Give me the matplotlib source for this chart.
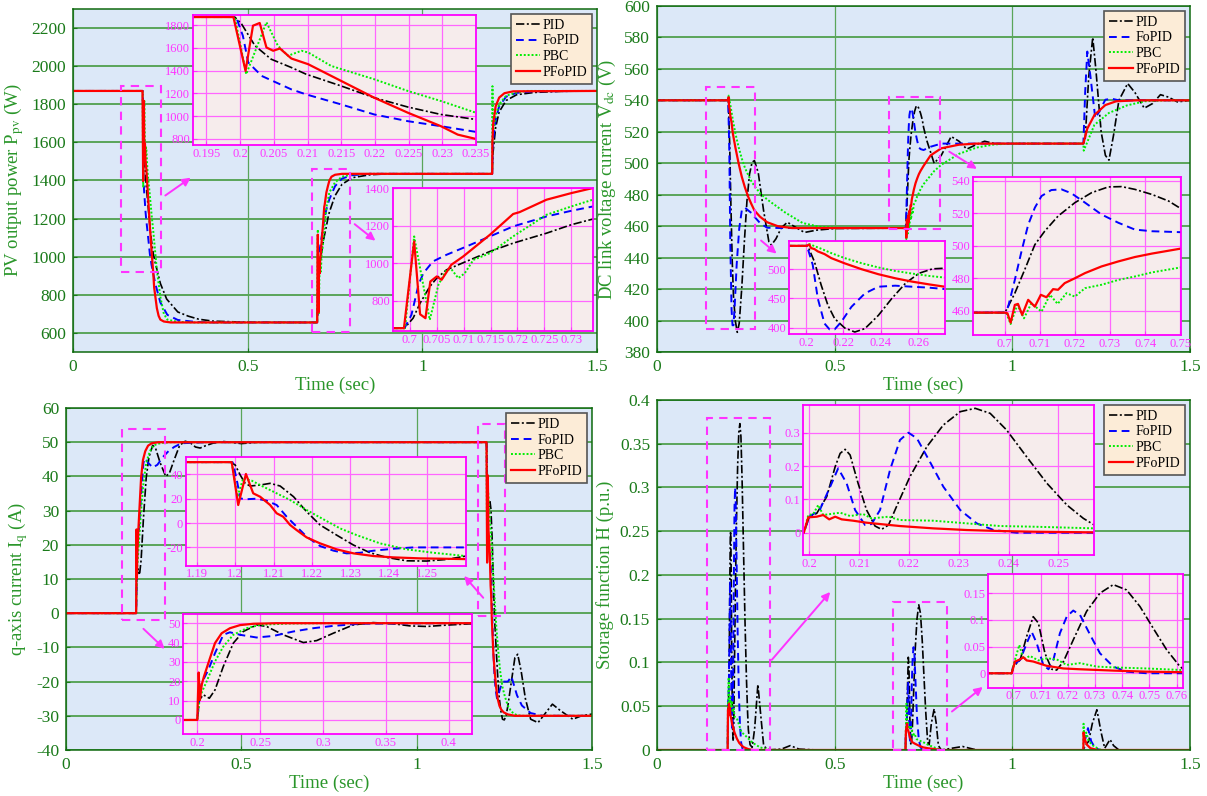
import matplotlib
matplotlib.use('Agg')
import matplotlib.pyplot as plt
from matplotlib.patches import Rectangle
from matplotlib.ticker import FuncFormatter

plt.rcParams['font.family'] = ['Liberation Serif', 'DejaVu Serif']
plt.rcParams['mathtext.fontset'] = 'stix'

# ---------------- data: PV output power (W) ----------------
pv_pid_t = [0, 0.1992, 0.2002, 0.2022, 0.2046, 0.2076, 0.2098, 0.215, 0.2199, 0.2249, 0.2298, 0.235, 0.25, 0.268, 0.3, 0.33, 0.36, 0.4, 0.5, 0.699,
            0.7006, 0.7019, 0.7037, 0.705, 0.7068, 0.71, 0.7149, 0.7192, 0.7254, 0.73, 0.734, 0.75, 0.77, 0.8, 0.85, 0.9, 1.2, 1.202, 1.21, 1.22,
            1.24, 1.27, 1.32, 1.4, 1.5]
pv_pid = [1870, 1870, 1810, 1618, 1500, 1427, 1368, 1265, 1162, 1080, 1015, 971, 860, 778, 710, 688, 672, 662, 656, 655,
          708, 788, 876, 921, 965, 1004, 1063, 1107, 1160, 1205, 1235, 1320, 1380, 1415, 1430, 1435, 1435, 1540, 1680, 1760,
          1820, 1850, 1862, 1868, 1870]
pv_fopid_t = [0, 0.1994, 0.2004, 0.2012, 0.2032, 0.2076, 0.2098, 0.215, 0.2199, 0.2249, 0.2298, 0.235, 0.25, 0.27, 0.3, 0.35, 0.4, 0.699, 0.7003, 0.7016,
              0.7025, 0.7043, 0.7068, 0.7105, 0.7149, 0.7192, 0.7254, 0.73, 0.734, 0.75, 0.77, 0.8, 0.85, 1.2, 1.202, 1.21, 1.22, 1.24, 1.27, 1.32, 1.5]
pv_fopid = [1870, 1870, 1706, 1471, 1353, 1235, 1191, 1103, 1015, 956, 912, 862, 760, 695, 668, 658, 655, 655, 726, 885,
            947, 1010, 1045, 1089, 1143, 1196, 1249, 1279, 1302, 1370, 1410, 1428, 1435, 1435, 1600, 1720, 1790, 1840, 1860, 1868, 1870]
pv_pbc_t = [0, 0.1992, 0.2009, 0.2039, 0.2056, 0.2071, 0.2091, 0.2101, 0.2135, 0.2199, 0.2249, 0.2298, 0.235, 0.24, 0.25, 0.26, 0.27, 0.3, 0.35, 0.6991,
            0.7008, 0.7037, 0.7053, 0.7068, 0.7077, 0.709, 0.7102, 0.7118, 0.7149, 0.7192, 0.7254, 0.73, 0.734, 0.75, 0.77, 0.8, 0.85, 1.2, 1.2008, 1.202,
            1.21, 1.22, 1.24, 1.27, 1.3, 1.5]
pv_pbc = [1870, 1870, 1368, 1824, 1618, 1530, 1574, 1559, 1441, 1324, 1221, 1133, 1030, 930, 790, 700, 670, 658, 655, 655,
          1143, 699, 885, 965, 969, 921, 947, 1018, 1054, 1143, 1258, 1302, 1338, 1390, 1420, 1432, 1435, 1435, 1895, 1650,
          1740, 1800, 1845, 1862, 1870, 1870]
pv_pfopid_t = [0, 0.1990, 0.2008, 0.2019, 0.2029, 0.2039, 0.2049, 0.2059, 0.2076, 0.2101, 0.215, 0.2199, 0.2249, 0.2298, 0.2323, 0.235, 0.24, 0.245, 0.25, 0.26,
               0.28, 0.6989, 0.7008, 0.7019, 0.7029, 0.7038, 0.705, 0.7059, 0.7077, 0.7099, 0.7149, 0.7192, 0.7204, 0.7254, 0.73, 0.734, 0.74, 0.75, 0.77, 1.2,
               1.2005, 1.203, 1.21, 1.22, 1.235, 1.26, 1.5]
pv_pfopid = [1870, 1870, 1397, 1794, 1818, 1603, 1574, 1594, 1506, 1456, 1309, 1162, 1030, 912, 838, 800, 730, 690, 670, 660,
             655, 655, 1116, 729, 708, 903, 930, 912, 992, 1036, 1152, 1262, 1272, 1338, 1373, 1400, 1420, 1430, 1435, 1435,
             1600, 1700, 1790, 1835, 1858, 1868, 1870]

# ---------------- data: DC link voltage (V) ----------------
vdc_pid_t = [0, 0.2009, 0.2045, 0.2081, 0.2117, 0.2153, 0.2207, 0.2261, 0.2315, 0.2387, 0.2459, 0.2532, 0.2604, 0.2676, 0.2742, 0.285, 0.30, 0.315, 0.322, 0.335,
             0.35, 0.367, 0.385, 0.415, 0.45, 0.5, 0.7, 0.7005, 0.7029, 0.7057, 0.7086, 0.7114, 0.7152, 0.72, 0.7248, 0.7295, 0.7333, 0.7371, 0.7419, 0.7467,
             0.7502, 0.76, 0.78, 0.80, 0.828, 0.85, 0.872, 0.9, 0.922, 0.95, 1.2, 1.205, 1.215, 1.2263, 1.235, 1.25, 1.262, 1.272, 1.285, 1.3,
             1.3246, 1.345, 1.3713, 1.395, 1.4169, 1.44, 1.4645, 1.5]
vdc_pid = [540, 540, 513, 473, 438.5, 415.5, 399.4, 392.5, 398.3, 421, 450, 476, 493, 500.6, 501.7, 494, 470, 450, 448, 452,
           459, 462.5, 460, 456, 457.5, 458.5, 458.8, 460.5, 470.8, 485.2, 500.7, 509, 518.3, 526.6, 532.8, 536.3, 536.5, 534.8, 531.7, 527.6,
           522.9, 514, 500, 505, 517, 514, 509, 512, 514, 512.5, 512.5, 515, 555, 580, 560, 520, 505, 502, 518, 540,
           550.7, 545, 535, 538, 543.6, 542, 539, 540]
vdc_fopid_t = [0, 0.2005, 0.2036, 0.2063, 0.2099, 0.2126, 0.2153, 0.2189, 0.2243, 0.2315, 0.2387, 0.2477, 0.2568, 0.2658, 0.2742, 0.29, 0.31, 0.35, 0.7, 0.701,
               0.7029, 0.7048, 0.7067, 0.7086, 0.7105, 0.7133, 0.7162, 0.719, 0.7229, 0.7276, 0.7324, 0.7371, 0.7419, 0.7502, 0.77, 0.8, 1.2, 1.205, 1.211, 1.22,
               1.2334, 1.245, 1.2618, 1.28, 1.3, 1.5]
vdc_fopid = [540, 540, 507.5, 450, 407, 397, 397, 410, 435.6, 458.6, 470, 471.8, 470, 468.4, 466, 462, 459, 458.8, 458.8, 462.5,
             479, 496.6, 513, 523.5, 530.7, 534.4, 534.8, 532.4, 526.6, 519.3, 514.2, 510, 509, 508.4, 510.5, 512.5, 512.5, 545, 571, 555,
             528.7, 533, 540.4, 541, 540, 540]
vdc_pbc_t = [0, 0.2, 0.2018, 0.2081, 0.2135, 0.2207, 0.2297, 0.2387, 0.2477, 0.2568, 0.2658, 0.2742, 0.29, 0.31, 0.36, 0.41, 0.46, 0.52, 0.7, 0.7005,
             0.7017, 0.7036, 0.7055, 0.7076, 0.7105, 0.7129, 0.7151, 0.7176, 0.72, 0.7229, 0.7276, 0.7324, 0.7371, 0.7419, 0.7502, 0.78, 0.8, 0.85, 0.9, 0.95,
             1.0, 1.2, 1.201, 1.231, 1.272, 1.323, 1.373, 1.43, 1.5]
vdc_pbc = [540, 540, 543, 535, 527.6, 519, 510.3, 503, 497, 492.5, 488.5, 485.6, 481, 477, 468.8, 462, 459.5, 458.8, 458.8, 458.4,
           451.8, 463.6, 455.3, 464.6, 459.4, 469.8, 464.2, 470.8, 468.7, 473.9, 476, 479, 481.1, 483.6, 486.7, 495, 499, 506, 510, 512,
           512.5, 512.5, 508, 524.4, 532, 536.8, 539.4, 540, 540]
vdc_pfopid_t = [0, 0.2, 0.2018, 0.2027, 0.2045, 0.2063, 0.2099, 0.2135, 0.2207, 0.2297, 0.2387, 0.2477, 0.2568, 0.2658, 0.2742, 0.29, 0.31, 0.34, 0.38, 0.7,
                0.7008, 0.7017, 0.7029, 0.7038, 0.705, 0.7067, 0.7086, 0.7103, 0.7119, 0.7138, 0.7152, 0.7171, 0.72, 0.7229, 0.7276, 0.7324, 0.7371, 0.7419, 0.7502, 0.77,
                0.8, 0.85, 0.9, 1.2, 1.211, 1.2314, 1.2618, 1.2922, 1.35, 1.5]
vdc_pfopid = [540, 540, 542, 536.2, 534.5, 530.5, 525.9, 519, 510, 500, 491.4, 484.5, 478.7, 474, 470, 466, 462.5, 460, 458.8, 458.8,
              458.4, 452.6, 463.6, 464.2, 457.4, 466.7, 462.5, 469.8, 468.3, 473.3, 472.9, 477, 480, 483.2, 487.3, 490.4, 493.1, 495.2, 498.3, 505,
              509.5, 511.8, 512.5, 512.5, 522, 530.8, 537, 539.4, 540, 540]

# ---------------- data: q-axis current (A) ----------------
iq_pid_t = [0, 0.2, 0.2016, 0.2048, 0.2096, 0.2141, 0.2207, 0.2287, 0.2366, 0.2472, 0.2552, 0.2684, 0.2844, 0.295, 0.3082, 0.3241, 0.34, 0.356, 0.3692, 0.3825,
            0.3984, 0.4183, 0.45, 0.5, 0.55, 1.1988, 1.2, 1.2013, 1.2026, 1.2039, 1.2065, 1.2091, 1.2117, 1.2152, 1.2186, 1.2221, 1.2264, 1.2308, 1.2351, 1.2394,
            1.2446, 1.2498, 1.255, 1.26, 1.27, 1.28, 1.288, 1.298, 1.31, 1.325, 1.346, 1.365, 1.387, 1.41, 1.445, 1.47, 1.5]
iq_pid = [0, 0, 10.3, 13, 11.2, 15.5, 27.6, 39.7, 45.7, 49.1, 48.3, 44, 40, 41, 44.8, 49.1, 50.3, 49.7, 48.6, 48.3,
          49, 49.7, 50.2, 49.6, 50, 50, 47.7, 39.5, 32.6, 30.4, 31.2, 32.6, 30.4, 21.6, 9.3, -1.6, -9.9, -18.1, -24.4, -28.2,
          -31, -31.2, -29.9, -27.1, -20, -13, -12, -17, -25, -31, -32, -29.5, -26.6, -28.5, -31, -30, -29.5]
iq_fopid_t = [0, 0.2, 0.2016, 0.2035, 0.2088, 0.2141, 0.2207, 0.226, 0.234, 0.2472, 0.2605, 0.2764, 0.2923, 0.3082, 0.3294, 0.4, 1.1993, 1.1995, 1.2006, 1.2013,
              1.2026, 1.2056, 1.2082, 1.2108, 1.2134, 1.216, 1.2186, 1.2221, 1.2256, 1.229, 1.2325, 1.236, 1.2412, 1.2464, 1.26, 1.27, 1.286, 1.3, 1.325, 1.36, 1.5]
iq_fopid = [0, 0, 10.3, 19, 25.9, 34.5, 44, 45.3, 44, 42.6, 43.4, 45.7, 47.4, 48.6, 49.7, 50, 50, 48.5, 32.6, 20.3,
            19.5, 20, 18.4, 14.8, 5.2, -3, -11.2, -18.9, -22.7, -24.9, -24.4, -22.7, -21.1, -20, -20, -18.5, -24, -27, -29.2, -30, -30]
iq_pbc_t = [0, 0.2, 0.2021, 0.2074, 0.2141, 0.2207, 0.2287, 0.2393, 0.2499, 0.2711, 0.3, 1.1991, 1.2006, 1.2021, 1.2043, 1.2073, 1.2108, 1.2143, 1.2186, 1.223,
            1.2273, 1.2316, 1.2377, 1.2446, 1.2516, 1.26, 1.27, 1.285, 1.3, 1.5]
iq_pbc = [0, 0, 12.1, 19.8, 30.2, 37.9, 44, 47.4, 49.1, 49.8, 50, 50, 21.6, 36.7, 34.8, 29.9, 24.4, 18.9, 10.7, 3,
          -4.4, -9.9, -16.7, -21.6, -24.4, -27.1, -28.8, -29.8, -30, -30]
iq_pfopid_t = [0, 0.2, 0.2011, 0.2021, 0.2035, 0.2053, 0.2101, 0.2141, 0.2194, 0.226, 0.234, 0.2446, 0.2631, 1.1991, 1.2008, 1.2028, 1.2047, 1.2065, 1.2091, 1.2108,
               1.2125, 1.2143, 1.216, 1.2186, 1.2221, 1.2264, 1.2308, 1.236, 1.2412, 1.2481, 1.26, 1.28, 1.5]
iq_pfopid = [0, 0, 24.5, 10.3, 18.1, 22.4, 31.9, 39.7, 44.8, 47.4, 49, 49.7, 50, 50, 14.8, 40.3, 24.4, 21.6, 14.8, 8,
             5.2, -1.6, -5.8, -11.8, -16.7, -21.6, -24.9, -27.1, -28.2, -29, -29.6, -30, -30]

# ---------------- data: storage function H (p.u.) ----------------
h_pid_t = [0, 0.1989, 0.2, 0.2015, 0.2035, 0.2052, 0.2062, 0.2072, 0.2082, 0.2098, 0.2115, 0.2132, 0.2145, 0.2159, 0.2175, 0.2202, 0.2236, 0.2269, 0.2303, 0.2333,
           0.2363, 0.2396, 0.2436, 0.2477, 0.2517, 0.255, 0.2572, 0.262, 0.268, 0.275, 0.284, 0.292, 0.3, 0.31, 0.35, 0.375, 0.4, 0.45, 0.6994, 0.7,
           0.7025, 0.7049, 0.7073, 0.7092, 0.7116, 0.7141, 0.7159, 0.7184, 0.722, 0.7269, 0.7318, 0.7367, 0.7416, 0.7465, 0.7514, 0.7563, 0.7612, 0.7624, 0.766, 0.772,
           0.78, 0.786, 0.792, 0.8, 0.86, 0.88, 0.9, 1.2, 1.205, 1.215, 1.225, 1.238, 1.25, 1.26, 1.275, 1.285, 1.3, 1.5]
h_pid = [0, 0, 0.048, 0.058, 0.108, 0.198, 0.238, 0.25, 0.233, 0.148, 0.068, 0.02, 0.01, 0.023, 0.078, 0.168, 0.258, 0.323, 0.363, 0.373,
         0.358, 0.308, 0.228, 0.148, 0.083, 0.043, 0.023, 0.006, 0.003, 0.025, 0.075, 0.04, 0.006, 0, 0.001, 0.005, 0.001, 0, 0, 0.0125,
         0.025, 0.069, 0.106, 0.094, 0.0375, 0.0075, 0.006, 0.022, 0.0625, 0.116, 0.15, 0.166, 0.156, 0.125, 0.084, 0.044, 0.0125, 0.008, 0.006, 0.03,
         0.047, 0.03, 0.005, 0, 0.004, 0.002, 0, 0, 0.005, 0.01, 0.03, 0.046, 0.02, 0.002, 0.012, 0.005, 0, 0]
h_fopid_t = [0, 0.1989, 0.2, 0.2021, 0.2042, 0.2058, 0.2075, 0.2092, 0.2112, 0.2125, 0.2142, 0.2162, 0.2182, 0.2199, 0.2216, 0.2242, 0.2269, 0.2303, 0.2336, 0.237,
             0.2416, 0.6994, 0.7, 0.7025, 0.7049, 0.7067, 0.7086, 0.711, 0.7129, 0.7147, 0.7171, 0.7196, 0.722, 0.7245, 0.7282, 0.7318, 0.7367, 0.7416, 0.749, 1.2,
             1.205, 1.213, 1.222, 1.232, 1.245, 1.5]
h_fopid = [0, 0, 0.048, 0.068, 0.138, 0.193, 0.148, 0.068, 0.023, 0.026, 0.068, 0.188, 0.278, 0.3, 0.283, 0.213, 0.138, 0.068, 0.028, 0.008,
           0, 0, 0.0156, 0.025, 0.056, 0.078, 0.056, 0.0156, 0.0075, 0.025, 0.075, 0.106, 0.1175, 0.109, 0.072, 0.0375, 0.0125, 0.003, 0, 0,
           0.012, 0.025, 0.01, 0.003, 0, 0]
h_pbc_t = [0, 0.1989, 0.1998, 0.2008, 0.2018, 0.2028, 0.2062, 0.2082, 0.2108, 0.2125, 0.2159, 0.2182, 0.2249, 0.2316, 0.2383, 0.245, 0.2572, 0.27, 0.29, 0.32,
           0.6994, 0.7004, 0.7022, 0.7037, 0.7061, 0.7092, 0.7122, 0.7159, 0.7196, 0.7245, 0.7306, 0.7367, 0.749, 0.7624, 0.78, 0.8, 1.2, 1.2005, 1.203, 1.208,
           1.215, 1.23, 1.25, 1.5]
h_pbc = [0, 0, 0.053, 0.056, 0.083, 0.053, 0.06, 0.05, 0.056, 0.043, 0.048, 0.038, 0.036, 0.028, 0.02, 0.018, 0.013, 0.008, 0.003, 0,
         0, 0.022, 0.053, 0.026, 0.0325, 0.024, 0.028, 0.026, 0.0156, 0.019, 0.0125, 0.011, 0.009, 0.006, 0.003, 0, 0, 0.03, 0.012, 0.02,
         0.01, 0.004, 0, 0]
h_pfopid_t = [0, 0.1989, 0.1998, 0.2015, 0.2028, 0.204, 0.2052, 0.2065, 0.2088, 0.2115, 0.2182, 0.2249, 0.2316, 0.2383, 0.245, 0.2572, 0.27, 0.6994, 0.7006, 0.7025,
              0.7037, 0.7049, 0.7073, 0.7122, 0.7184, 0.7245, 0.7367, 0.749, 0.7624, 0.8, 1.2, 1.2005, 1.204, 1.21, 1.22, 1.24, 1.5]
h_pfopid = [0, 0, 0.046, 0.048, 0.053, 0.04, 0.048, 0.04, 0.036, 0.03, 0.02, 0.013, 0.008, 0.005, 0.003, 0.001, 0, 0, 0.022, 0.026,
            0.03, 0.024, 0.022, 0.014, 0.009, 0.0075, 0.005, 0.003, 0.002, 0, 0, 0.02, 0.012, 0.006, 0.002, 0, 0]

series_names = ['PID', 'FoPID', 'PBC', 'PFoPID']
time_ticks = [0, 0.5, 1, 1.5]

# ---------------- styling ----------------
STY = {
    'PID':    dict(color='black', ls=(0, (5, 1.5, 1.2, 1.5)), lw=1.2),
    'FoPID':  dict(color='#0000ff', ls=(0, (4, 2.5)), lw=1.4),
    'PBC':    dict(color='#00ee00', ls=(0, (1, 1)), lw=1.4),
    'PFoPID': dict(color='#ff0000', ls='-', lw=1.6),
}
BG = '#dce8f8'
GRID = '#5aa55a'
TICKC = '#1a7a1a'
LABC = '#2a962a'
MAG = '#ff33ff'
fmt = FuncFormatter(lambda v, p: f'{v:g}')

fig = plt.figure(figsize=(12.07, 7.96), dpi=100)


def draw_panel(rect, data, ylim, yticks, ylabel, insets, boxes, arrows):
    ax = fig.add_axes(rect)
    ax.set_facecolor(BG)
    for (t, v), name in zip(data, series_names):
        ax.plot(t, v, label=name, **STY[name])
    ax.set_xlim(0, 1.5)
    ax.set_ylim(*ylim)
    ax.set_xticks(time_ticks)
    ax.set_yticks(yticks)
    ax.xaxis.set_major_formatter(fmt)
    ax.yaxis.set_major_formatter(fmt)
    ax.grid(True, axis='y', color=GRID, lw=1.4)
    ax.grid(True, axis='x', color=GRID, lw=0.9)
    ax.set_axisbelow(True)
    ax.tick_params(direction='in', length=3, colors=TICKC, labelsize=12.5, labelcolor=TICKC, pad=5)
    for s in ax.spines.values():
        s.set_color('#0f6a0f')
        s.set_linewidth(1.1)
    ax.set_xlabel('Time (sec)', fontsize=13.5, color=LABC, labelpad=1)
    ax.set_ylabel(ylabel, fontsize=13.5, color=LABC, labelpad=4)
    for (x0, y0, x1, y1) in boxes:
        ax.add_patch(Rectangle((x0, y0), x1 - x0, y1 - y0, fill=False, ec=MAG, ls=(0, (4, 3)), lw=1.5, zorder=4, clip_on=False))
    for (xa, ya, xb, yb) in arrows:
        ax.annotate('', xy=(xb, yb), xytext=(xa, ya),
                    arrowprops=dict(arrowstyle='-|>', color=MAG, lw=1.4, mutation_scale=12), zorder=6)
    leg = ax.legend(loc='upper right', fontsize=10, frameon=True, fancybox=False, framealpha=1,
                    facecolor='#fcecd7', edgecolor='#555555', handlelength=1.7, handletextpad=0.2,
                    labelspacing=0.2, borderpad=0.35, borderaxespad=0.35)
    leg.get_frame().set_linewidth(1.2)
    leg.set_zorder(20)
    for (pos, xl, yl, xt, yt) in insets:
        ins = ax.inset_axes(pos)
        ins.set_facecolor('#f6ecec')
        for (t, v), name in zip(data, series_names):
            ins.plot(t, v, **STY[name])
        ins.set_xlim(*xl)
        ins.set_ylim(*yl)
        ins.set_xticks(xt)
        ins.set_yticks(yt)
        ins.xaxis.set_major_formatter(fmt)
        ins.yaxis.set_major_formatter(fmt)
        ins.grid(True, color='#ff66ff', lw=0.9)
        ins.set_axisbelow(True)
        ins.tick_params(direction='in', length=3, colors=MAG, labelcolor=MAG, labelsize=9, pad=2)
        for s in ins.spines.values():
            s.set_color('#ff00ff')
            s.set_linewidth(1.3)
        ins.set_zorder(8)
    return ax


# Panel 1: PV power
draw_panel([0.0605, 0.5578, 0.4341, 0.4309],
           [(pv_pid_t, pv_pid), (pv_fopid_t, pv_fopid), (pv_pbc_t, pv_pbc), (pv_pfopid_t, pv_pfopid)],
           (500, 2300), list(range(600, 2201, 200)), r'PV output power P$_{\mathrm{pv}}$ (W)',
           [([0.229, 0.6035, 0.540, 0.379], (0.193, 0.235), (747, 1888),
             [0.195, 0.2, 0.205, 0.21, 0.215, 0.22, 0.225, 0.23, 0.235], [800, 1000, 1200, 1400, 1600, 1800]),
            ([0.610, 0.0612, 0.382, 0.4168], (0.6968, 0.734), (640, 1400),
             [0.7, 0.705, 0.71, 0.715, 0.72, 0.725, 0.73], [800, 1000, 1200, 1400])],
           [(0.1366, 920, 0.252, 1896), (0.684, 605, 0.793, 1460)],
           [(0.2577, 1313, 0.3435, 1423), (0.80, 1180, 0.872, 1075)])

# Panel 2: DC link voltage
draw_panel([0.5443, 0.5578, 0.4416, 0.4347],
           [(vdc_pid_t, vdc_pid), (vdc_fopid_t, vdc_fopid), (vdc_pbc_t, vdc_pbc), (vdc_pfopid_t, vdc_pfopid)],
           (380, 600), list(range(380, 601, 20)), r'DC link voltage current V$_{\mathrm{dc}}$ (V)',
           [([0.248, 0.051, 0.292, 0.271], (0.191, 0.2742), (388.5, 549),
             [0.2, 0.22, 0.24, 0.26], [400, 450, 500]),
            ([0.593, 0.049, 0.390, 0.458], (0.691, 0.7502), (445, 542.7),
             [0.7, 0.71, 0.72, 0.73, 0.74, 0.75], [460, 480, 500, 520, 540])],
           [(0.137, 394.5, 0.277, 548.6), (0.652, 458.5, 0.796, 541.9)],
           [(0.287, 452, 0.3426, 441.4), (0.816, 508.3, 0.907, 495.5)])

# Panel 3: q-axis current
draw_panel([0.0547, 0.0578, 0.4358, 0.4296],
           [(iq_pid_t, iq_pid), (iq_fopid_t, iq_fopid), (iq_pbc_t, iq_pbc), (iq_pfopid_t, iq_pfopid)],
           (-40, 60), list(range(-40, 61, 10)), r'q-axis current I$_{\mathrm{q}}$ (A)',
           [([0.228, 0.539, 0.532, 0.317], (1.1872, 1.26), (-35, 54),
             [1.19, 1.2, 1.21, 1.22, 1.23, 1.24, 1.25], [-20, 0, 20, 40]),
            ([0.223, 0.046, 0.548, 0.352], (0.1889, 0.4183), (-7.4, 54.8),
             [0.2, 0.25, 0.3, 0.35, 0.4], [0, 10, 20, 30, 40, 50])],
           [(0.16, -2.1, 0.283, 53.9), (1.174, -0.7, 1.253, 55.3)],
           [(0.215, -4, 0.287, -11), (1.195, 3.9, 1.13, 11.5)])

# Panel 4: storage function
draw_panel([0.5443, 0.0578, 0.4416, 0.4397],
           [(h_pid_t, h_pid), (h_fopid_t, h_fopid), (h_pbc_t, h_pbc), (h_pfopid_t, h_pfopid)],
           (0, 0.4), [0, 0.05, 0.1, 0.15, 0.2, 0.25, 0.3, 0.35, 0.4], 'Storage function H (p.u.)',
           [([0.2745, 0.557, 0.546, 0.4287], (0.1988, 0.2572), (-0.067, 0.383),
             [0.2, 0.21, 0.22, 0.23, 0.24, 0.25], [0, 0.1, 0.2, 0.3]),
            ([0.6216, 0.178, 0.3658, 0.325], (0.6908, 0.7624), (-0.027, 0.186),
             [0.7, 0.71, 0.72, 0.73, 0.74, 0.75, 0.76], [0, 0.05, 0.1, 0.15])],
           [(0.141, 0.0, 0.318, 0.379), (0.664, 0.0, 0.816, 0.169)],
           [(0.318, 0.1006, 0.4927, 0.183), (0.824, 0.042, 0.923, 0.074)])

fig.savefig('out.png', dpi=100)
